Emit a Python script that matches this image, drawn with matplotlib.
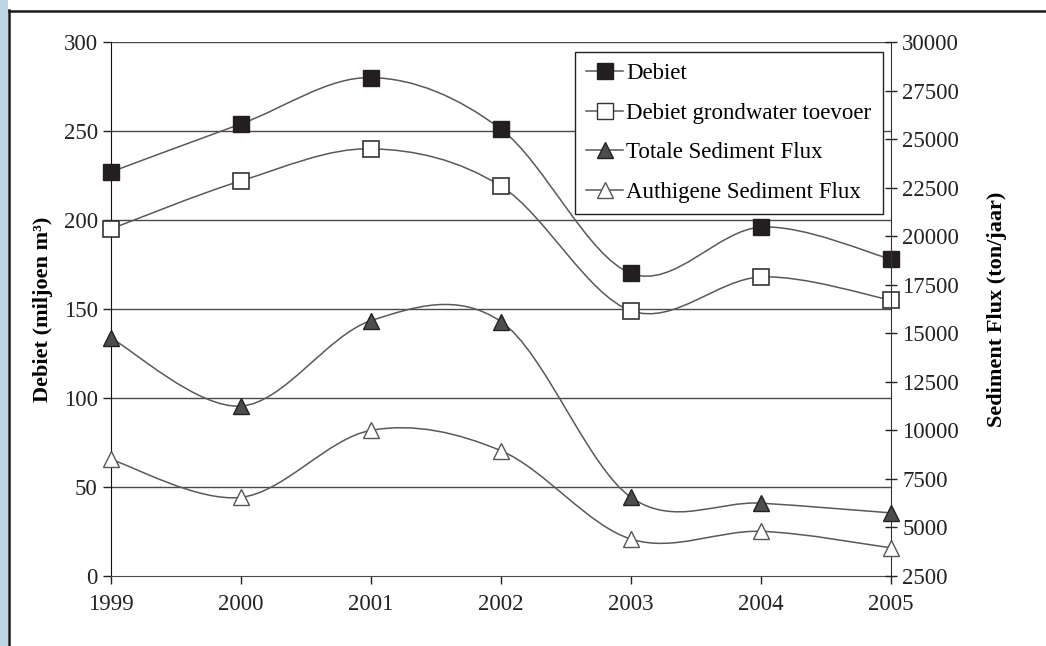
import matplotlib
matplotlib.use("Agg")
import matplotlib.pyplot as plt
from matplotlib.path import Path
from matplotlib.patches import PathPatch, Rectangle
from matplotlib.lines import Line2D

plt.rcParams["font.family"] = ["Liberation Serif", "DejaVu Serif"]

years = [1999, 2000, 2001, 2002, 2003, 2004, 2005]
debiet = [227, 254, 280, 251, 170, 196, 178]
debiet_grondwater = [195, 222, 240, 219, 149, 168, 155]
totale_flux = [14750, 11250, 15650, 15600, 6550, 6250, 5750]
authigene_flux = [8500, 6550, 10000, 8950, 4400, 4800, 3950]

line_col = "#595959"
fs = 16.5


def smooth_path(xs, ys):
    # excel-like smoothed line: bezier segments with catmull-rom control points
    n = len(xs)
    verts = [(xs[0], ys[0])]
    codes = [Path.MOVETO]
    for i in range(n - 1):
        i0 = max(i - 1, 0)
        i3 = min(i + 2, n - 1)
        c1 = (xs[i] + (xs[i + 1] - xs[i0]) / 6, ys[i] + (ys[i + 1] - ys[i0]) / 6)
        c2 = (xs[i + 1] - (xs[i3] - xs[i]) / 6, ys[i + 1] - (ys[i3] - ys[i]) / 6)
        verts += [c1, c2, (xs[i + 1], ys[i + 1])]
        codes += [Path.CURVE4] * 3
    return Path(verts, codes)


fig = plt.figure(figsize=(10.46, 6.46), dpi=100)

# blue strip and frame of the slide
fig.add_artist(Rectangle((0, 0), 8 / 1046, 1, transform=fig.transFigure,
                         facecolor="#bcd6e8", edgecolor="none"))
fig.add_artist(Line2D([8.5 / 1046, 8.5 / 1046], [0, 1 - 10 / 646], transform=fig.transFigure,
                      color="#1a1a1a", lw=1.8))
fig.add_artist(Line2D([8.5 / 1046, 1], [1 - 11 / 646, 1 - 11 / 646], transform=fig.transFigure,
                      color="#1a1a1a", lw=1.8))

ax = fig.add_axes([111 / 1046, 70 / 646, 780 / 1046, 534 / 646])
ax2 = ax.twinx()

ax.set_xlim(1999, 2005)
ax.set_ylim(0, 300)
ax2.set_ylim(2500, 30000)
ax.set_xticks(years)
ax.set_yticks(range(0, 301, 50))
ax2.set_yticks(range(2500, 30001, 2500))

for y in range(50, 301, 50):
    ax.axhline(y, color="#4a4a4a", lw=1.0, zorder=1)

for a in (ax, ax2):
    a.spines["top"].set_visible(False)
ax.spines["right"].set_visible(False)
ax.spines["left"].set_color("#111111")
ax.spines["bottom"].set_color("#4a4a4a")
ax2.spines["left"].set_visible(False)
ax2.spines["bottom"].set_visible(False)
ax2.spines["right"].set_color("#333333")

ax.tick_params(axis="both", direction="out", length=6, width=1, labelsize=fs, colors="#222222")
ax.tick_params(axis="x", pad=7)
ax2.tick_params(axis="y", direction="inout", length=8, width=1, labelsize=fs, colors="#222222", pad=4)

# left-axis series
ax.add_patch(PathPatch(smooth_path(years, debiet), facecolor="none", edgecolor=line_col, lw=1.1, zorder=2))
ax.add_patch(PathPatch(smooth_path(years, debiet_grondwater), facecolor="none", edgecolor=line_col, lw=1.1, zorder=2))
ax.plot(years, debiet, ls="none", marker="s", ms=11, mfc="#231f20", mec="#231f20", zorder=3, clip_on=False)
ax.plot(years, debiet_grondwater, ls="none", marker="s", ms=11, mfc="white", mec="#333333", mew=1.2, zorder=3, clip_on=False)

# right-axis series
ax2.add_patch(PathPatch(smooth_path(years, totale_flux), facecolor="none", edgecolor=line_col, lw=1.1, zorder=2))
ax2.add_patch(PathPatch(smooth_path(years, authigene_flux), facecolor="none", edgecolor=line_col, lw=1.1, zorder=2))
ax2.plot(years, totale_flux, ls="none", marker="^", ms=11, mfc="#4d4d4d", mec="#222222", mew=1.0, zorder=3, clip_on=False)
ax2.plot(years, authigene_flux, ls="none", marker="^", ms=11, mfc="white", mec="#555555", mew=1.0, zorder=3, clip_on=False)

ax.set_ylabel("Debiet (miljoen m³)", fontsize=16, fontweight="bold", labelpad=8)
ax2.set_ylabel("Sediment Flux (ton/jaar)", fontsize=16, fontweight="bold", labelpad=20)

handles = [
    Line2D([], [], color=line_col, lw=1.1, marker="s", ms=11, mfc="#231f20", mec="#231f20"),
    Line2D([], [], color=line_col, lw=1.1, marker="s", ms=11, mfc="white", mec="#333333"),
    Line2D([], [], color=line_col, lw=1.1, marker="^", ms=11, mfc="#4d4d4d", mec="#222222"),
    Line2D([], [], color=line_col, lw=1.1, marker="^", ms=11, mfc="white", mec="#555555"),
]
labels = ["Debiet", "Debiet grondwater toevoer", "Totale Sediment Flux", "Authigene Sediment Flux"]
leg = ax2.legend(handles, labels, loc="upper right", bbox_to_anchor=(0.9897, 0.9813),
                 borderaxespad=0, fontsize=fs, frameon=True, fancybox=False,
                 edgecolor="#222222", framealpha=1, handlelength=1.6, handletextpad=0.15,
                 labelspacing=0.8, borderpad=0.5)
leg.get_frame().set_linewidth(1.0)

fig.savefig("out.png", dpi=100)
